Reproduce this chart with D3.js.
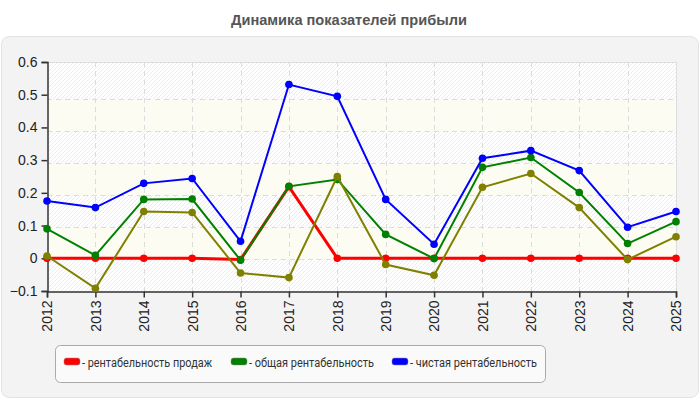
<!DOCTYPE html>
<html>
<head>
<meta charset="utf-8">
<script src="https://cdn.jsdelivr.net/npm/d3@7"></script>
<style>
  body { margin: 0; background: #fff; }
  svg { display: block; font-family: "Liberation Sans", Arial, sans-serif; }
</style>
</head>
<body>
<svg width="700" height="400"></svg>
<script>
// chart data
const years = [2012, 2013, 2014, 2015, 2016, 2017, 2018, 2019, 2020, 2021, 2022, 2023, 2024, 2025];
const salesProfit = [0, 0, 0, 0, -0.004, 0.219, 0, 0, 0, 0, 0, 0, 0, 0];
const totalProfit = [0.09, 0.009, 0.18, 0.181, -0.006, 0.22, 0.241, 0.073, -0.001, 0.278, 0.308, 0.201, 0.045, 0.112];
const netProfit = [0.175, 0.155, 0.229, 0.244, 0.052, 0.531, 0.495, 0.18, 0.043, 0.306, 0.329, 0.268, 0.095, 0.143];
const otherProfit = [0.007, -0.092, 0.143, 0.14, -0.045, -0.059, 0.25, -0.019, -0.052, 0.217, 0.259, 0.155, -0.004, 0.066];
const yTicks = [-0.1, 0, 0.1, 0.2, 0.3, 0.4, 0.5, 0.6];
const legendLabels = ["- рентабельность продаж", "- общая рентабельность", "- чистая рентабельность"];
const legendColors = ["#ff0000", "#008000", "#0000ff"];

const svg = d3.select("svg");
const plotLeft = 47, plotRight = 676, plotTop = 62, plotBottom = 291;

// title and grey panel
svg.append("text")
    .attr("x", 349).attr("y", 25)
    .attr("text-anchor", "middle")
    .attr("font-size", 14.6).attr("font-weight", "bold")
    .attr("fill", "#555")
    .text("Динамика показателей прибыли");

svg.append("rect")
    .attr("x", 1.5).attr("y", 36.5)
    .attr("width", 697).attr("height", 361)
    .attr("rx", 8)
    .attr("fill", "#f3f3f3").attr("stroke", "#e2e2e2");

const x = d3.scalePoint().domain(years).range([plotLeft, plotRight]);
const y = d3.scaleLinear().domain([-0.1, 0.6]).range([plotBottom, plotTop]);
// grid lines sit on a slightly shorter range than the ticks (as in the source chart)
const yGrid = d3.scaleLinear().domain([-0.1, 0.6]).range([plotBottom, plotTop + 5]);

// hatch pattern for the striped bands
const defs = svg.append("defs");
const pat = defs.append("pattern")
    .attr("id", "hatch").attr("patternUnits", "userSpaceOnUse")
    .attr("width", 4).attr("height", 4);
pat.append("rect").attr("width", 4).attr("height", 4).attr("fill", "#fff");
pat.append("path").attr("d", "M-1,1 l2,-2 M0,4 l4,-4 M3,5 l2,-2")
    .attr("stroke", "#ececec").attr("stroke-width", 1);

// background bands
const bandEdges = [0.6].concat(yTicks.slice(0, -1).reverse());
svg.append("g").selectAll("rect")
    .data(bandEdges.slice(0, -1))
    .join("rect")
    .attr("x", plotLeft)
    .attr("y", (d, i) => i === 0 ? plotTop : yGrid(d))
    .attr("width", plotRight - plotLeft)
    .attr("height", (d, i) => yGrid(bandEdges[i + 1]) - (i === 0 ? plotTop : yGrid(d)))
    .attr("fill", (d, i) => i % 2 === 0 ? "url(#hatch)" : "#fcfcf3");

// grid
svg.append("g").selectAll("line")
    .data(yTicks.slice(1, -1))
    .join("line")
    .attr("x1", plotLeft).attr("x2", plotRight)
    .attr("y1", d => Math.round(yGrid(d)) + 0.5).attr("y2", d => Math.round(yGrid(d)) + 0.5)
    .attr("stroke", "#dcdcdc").attr("stroke-dasharray", "5,4");
svg.append("g").selectAll("line")
    .data(years.slice(1, -1))
    .join("line")
    .attr("x1", d => Math.round(x(d)) + 0.5).attr("x2", d => Math.round(x(d)) + 0.5)
    .attr("y1", plotTop).attr("y2", plotBottom)
    .attr("stroke", "#dcdcdc").attr("stroke-dasharray", "5,4");

// top and right frame
svg.append("path")
    .attr("d", `M${plotLeft},${plotTop + 0.5}H${plotRight + 0.5}V${plotBottom}`)
    .attr("fill", "none").attr("stroke", "#dddddd");

// axes
const yAxis = svg.append("g")
    .attr("transform", `translate(${plotLeft + 0.5},0)`)
    .call(d3.axisLeft(y).tickValues(yTicks).tickSize(6).tickPadding(4).tickFormat(d => d3.format("")(+d.toFixed(1))));
const xAxis = svg.append("g")
    .attr("transform", `translate(0,${plotBottom + 0.5})`)
    .call(d3.axisBottom(x).tickSize(6).tickPadding(3));
xAxis.selectAll("text")
    .attr("transform", "rotate(-90)")
    .attr("text-anchor", "end")
    .attr("x", -9).attr("y", 0).attr("dy", "0.35em");
[yAxis, xAxis].forEach(g => {
  g.select(".domain").attr("stroke", "#333").attr("stroke-width", 1.5);
  g.selectAll(".tick line").attr("stroke", "#333").attr("stroke-width", 1.5);
  g.selectAll("text").attr("font-size", 14).attr("fill", "#222")
      .attr("font-family", "'Liberation Sans', Arial, sans-serif");
});

// series
const series = [
  { values: salesProfit, color: "#ff0000", width: 3 },
  { values: totalProfit, color: "#008000", width: 2 },
  { values: otherProfit, color: "#808000", width: 2 },
  { values: netProfit, color: "#0000ff", width: 2 }
];
const line = d3.line().x((d, i) => x(years[i])).y(d => y(d));
series.forEach(s => {
  const g = svg.append("g");
  g.append("path")
      .attr("d", line(s.values))
      .attr("fill", "none")
      .attr("stroke", s.color)
      .attr("stroke-width", s.width);
  g.selectAll("circle")
      .data(s.values)
      .join("circle")
      .attr("cx", (d, i) => x(years[i]))
      .attr("cy", d => y(d))
      .attr("r", 3.8)
      .attr("fill", s.color);
});

// legend
svg.append("rect")
    .attr("x", 55.5).attr("y", 345.5)
    .attr("width", 490).attr("height", 37)
    .attr("rx", 5)
    .attr("fill", "#fafafa").attr("stroke", "#aaaaaa");
const legendX = [64, 231, 392];
const legendTextWidth = [130, 125, 127];
const items = svg.append("g").selectAll("g")
    .data(legendLabels)
    .join("g")
    .attr("transform", (d, i) => `translate(${legendX[i]},358)`);
items.append("rect")
    .attr("width", 16).attr("height", 7).attr("rx", 2.5)
    .attr("fill", (d, i) => legendColors[i])
    .attr("stroke", "#888").attr("stroke-width", 0.5);
items.append("text")
    .attr("x", 18).attr("y", 8.5)
    .attr("font-size", 12.5).attr("fill", "#333")
    .attr("font-family", "Roboto, sans-serif")
    .attr("textLength", (d, i) => legendTextWidth[i])
    .attr("lengthAdjust", "spacingAndGlyphs")
    .text(d => d);
</script>
</body>
</html>
